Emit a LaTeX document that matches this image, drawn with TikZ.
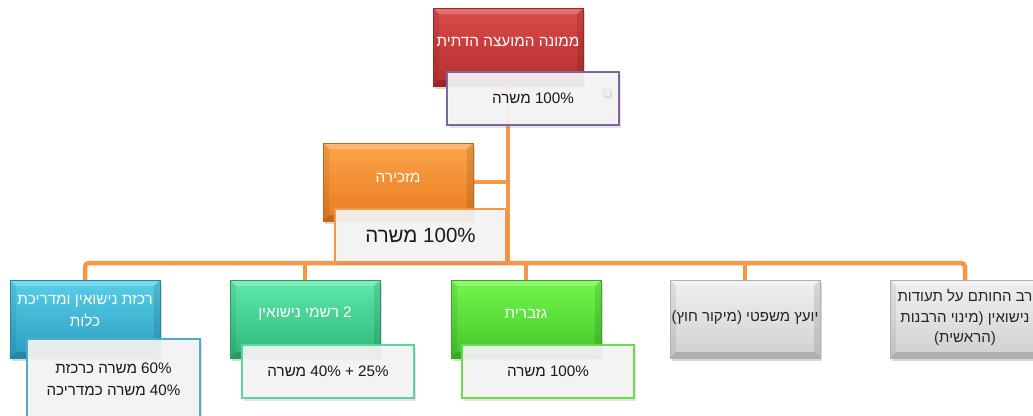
\documentclass[tikz,border=0pt]{standalone}
\usepackage{fontspec}
\setmainfont{Liberation Sans}
\newfontfamily\heb[Script=Hebrew]{Liberation Sans}
\TeXXeTstate=1
\usetikzlibrary{shadows,backgrounds}
\definecolor{connc}{HTML}{F79646}
\definecolor{redT}{HTML}{DA4B4B}\definecolor{redB}{HTML}{B52E2E}
\definecolor{oraT}{HTML}{FBA54B}\definecolor{oraB}{HTML}{E87A1E}
\definecolor{bluT}{HTML}{58CFE7}\definecolor{bluB}{HTML}{2B9DC2}
\definecolor{teaT}{HTML}{5EE8AA}\definecolor{teaB}{HTML}{2DB878}
\definecolor{grnT}{HTML}{72F74C}\definecolor{grnB}{HTML}{44C42A}
\definecolor{gryT}{HTML}{F0F0F0}\definecolor{gryB}{HTML}{D0D0D0}
\definecolor{purB}{HTML}{8064A2}
\definecolor{bluL}{HTML}{4BACC6}
\definecolor{teaL}{HTML}{58D898}
\definecolor{grnL}{HTML}{62E04C}
\definecolor{wfill}{HTML}{F4F4F4}
\tikzset{
  bevel/.style={path picture={
    \fill[white, opacity=0.22] (path picture bounding box.north west) -- (path picture bounding box.north east)
      -- ([xshift=-6pt,yshift=-6pt]path picture bounding box.north east) -- ([xshift=6pt,yshift=-6pt]path picture bounding box.north west) -- cycle;
    \fill[black, opacity=0.16] (path picture bounding box.south west) -- (path picture bounding box.south east)
      -- ([xshift=-6pt,yshift=6pt]path picture bounding box.south east) -- ([xshift=6pt,yshift=6pt]path picture bounding box.south west) -- cycle;
    \fill[black, opacity=0.07] (path picture bounding box.north west) -- ([xshift=6pt,yshift=-6pt]path picture bounding box.north west)
      -- ([xshift=6pt,yshift=6pt]path picture bounding box.south west) -- (path picture bounding box.south west) -- cycle;
    \fill[black, opacity=0.10] (path picture bounding box.north east) -- ([xshift=-6pt,yshift=-6pt]path picture bounding box.north east)
      -- ([xshift=-6pt,yshift=6pt]path picture bounding box.south east) -- (path picture bounding box.south east) -- cycle;
  }},
  titlebox/.style 2 args={top color=#1, bottom color=#2, draw=#2!85!black, line width=0.6pt,
    minimum width=150pt, minimum height=78pt, inner sep=0pt, bevel,
    drop shadow={opacity=0.3, shadow xshift=2pt, shadow yshift=-3pt}},
  wbox/.style={draw=#1, line width=1.6pt, fill=wfill, fill opacity=0.93, text opacity=1,
    minimum width=172pt, minimum height=53pt, inner sep=0pt,
    drop shadow={opacity=0.22, shadow xshift=2pt, shadow yshift=-3pt}},
  titletext/.style={text=white, font=\heb\fontsize{15.3}{21.5}\selectfont, align=center},
  darktext/.style={text=black!85, font=\heb\fontsize{15}{20.5}\selectfont, align=center},
  bodytext/.style={font=\heb\fontsize{15.2}{22}\selectfont, align=center, text=black!90},
  connline/.style={draw=connc, line width=4.5pt},
}
\begin{document}
\begin{tikzpicture}[x=1pt,y=-1pt]
\useasboundingbox (0,0) rectangle (1033,415);

% title boxes
\node[titlebox={redT}{redB}, label={[titletext, yshift=5pt]center:{\beginR ממונה המועצה הדתית\endR}}] (top) at (508,47) {};
\node[titlebox={oraT}{oraB}, label={[titletext, yshift=4pt]center:{\beginR מזכירה\endR}}] (sec) at (398,182) {};
\node[titlebox={bluT}{bluB}, label={[titletext, yshift=8pt]center:{\beginR רכזת נישואין ומדריכת\endR\\\beginR כלות\endR}}] (c1) at (85,319) {};
\node[titlebox={teaT}{teaB}, label={[titletext, yshift=5pt]center:{\beginR\beginL 2\endL{} רשמי נישואין\endR}}] (c2) at (305,319) {};
\node[titlebox={grnT}{grnB}, label={[titletext, yshift=5pt]center:{\beginR גזברית\endR}}] (c3) at (526,319) {};
\node[titlebox={gryT}{gryB}, label={[darktext, yshift=1pt]center:{\beginR יועץ משפטי (מיקור חוץ)\endR}}] (c4) at (745,319) {};
\node[titlebox={gryT}{gryB}, label={[darktext, yshift=1.5pt]center:{\beginR רב החותם על תעודות\endR\\\beginR נישואין (מינוי הרבנות\endR\\\beginR (הראשית)\endR}}] (c5) at (965,319) {};

% white boxes
\node[wbox=purB, bodytext] (w0) at (533,98.5) {\beginR\beginL 100\%\endL{} משרה\endR};
\node[fill=gray!12, draw=gray!25, minimum size=7pt, inner sep=0pt,
  drop shadow={opacity=0.2, shadow xshift=1pt, shadow yshift=-1pt}] (sq) at (607,93) {};
\node[wbox=connc, minimum width=171pt, font=\heb\fontsize{20.5}{24}\selectfont, text=black!90] (w1) at (420.5,235.5) {\beginR\beginL 100\%\endL{} משרה\endR};
\node[wbox=bluL, minimum width=173pt, minimum height=80pt, bodytext] (w2) at (113.5,379) {\beginR\beginL 60\%\endL{} משרה כרכזת\endR\\\beginR\beginL 40\%\endL{} משרה כמדריכה\endR};
\node[wbox=teaL, bodytext] (w3) at (328,371.5) {\beginR\beginL 40\% + 25\%\endL{} משרה\endR};
\node[wbox=grnL, bodytext] (w4) at (548,371.5) {\beginR\beginL 100\%\endL{} משרה\endR};

% connectors
\begin{scope}[on background layer]
\coordinate (bus) at (508,263);
\draw[connline] (top.center) -- (top.center |- bus);
\draw[connline] (sec.center) -- (sec.center -| top.center);
\draw[connline, rounded corners=4pt] (c1.center) -- (c1.center |- bus) -- (c5.center |- bus) -- (c5.center);
\draw[connline] (c2.center) -- (c2.center |- bus);
\draw[connline] (c3.center) -- (c3.center |- bus);
\draw[connline] (c4.center) -- (c4.center |- bus);
\end{scope}
\end{tikzpicture}
\end{document}
